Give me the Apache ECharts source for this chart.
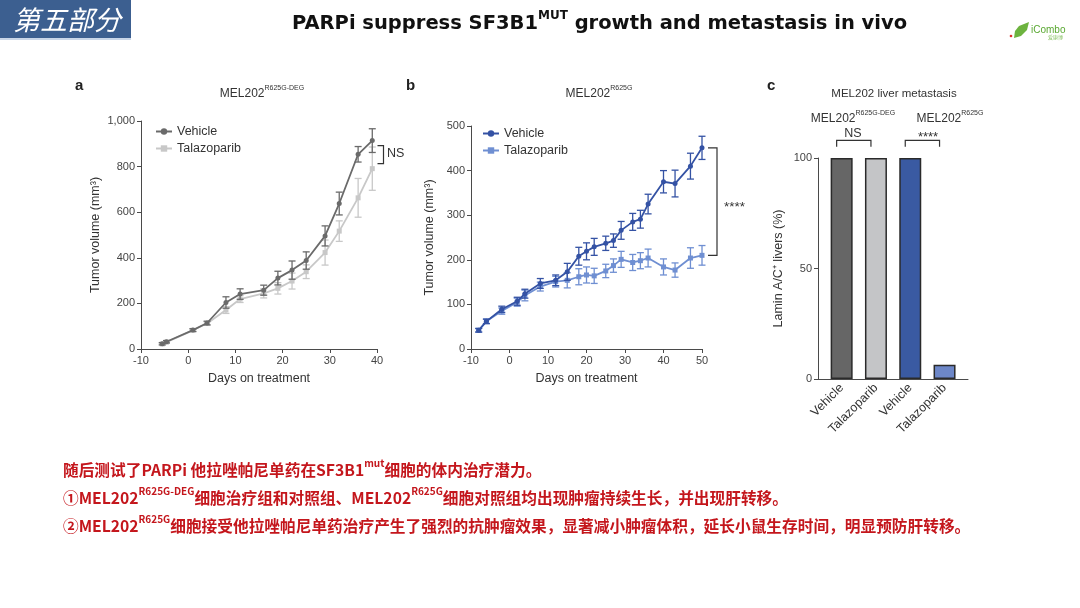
<!DOCTYPE html>
<html><head><meta charset="utf-8">
<script src="https://cdn.jsdelivr.net/npm/echarts@6/dist/echarts.min.js"></script>
<style>html,body{margin:0;padding:0;background:#fff}#c{width:1080px;height:608px}</style>
</head><body><div id="c"></div>
<script>
// ---------- data ----------
const daysA = [-5.5, -4.6, 1, 4, 8, 11, 16, 19, 22, 25, 29, 32, 36, 39];
const vehA = [23, 32, 83, 114, 204, 241, 258, 311, 346, 388, 496, 638, 854, 914];
const vehAErr = [5, 5, 6, 8, 25, 23, 22, 30, 40, 38, 44, 50, 34, 52];
const talA = [22, 30, 82, 112, 171, 219, 244, 266, 298, 339, 423, 517, 663, 791];
const talAErr = [4, 5, 6, 8, 15, 15, 20, 25, 35, 30, 55, 45, 85, 95];

const daysB = [-8, -6, -2, 2, 4, 8, 12, 15, 18, 20, 22, 25, 27, 29, 32, 34, 36, 40, 43, 47, 50];
const vehB = [42, 62, 89, 107, 124, 147, 154, 173, 208, 219, 229, 237, 243, 266, 285, 291, 325, 375, 371, 410, 451];
const vehBErr = [4, 5, 7, 9, 10, 11, 12, 19, 20, 19, 19, 16, 15, 20, 19, 20, 22, 25, 30, 29, 26];
const talB = [42, 62, 85, 105, 120, 140, 151, 154, 162, 166, 164, 175, 187, 201, 194, 198, 204, 184, 177, 204, 210];
const talBErr = [4, 5, 7, 9, 12, 10, 12, 17, 18, 18, 17, 15, 15, 18, 18, 18, 20, 18, 16, 23, 22];

const catsC = ['Vehicle', 'Talazoparib', 'Vehicle', 'Talazoparib'];
const valsC = [100, 100, 100, 6.5];

const seriesNames = ['Vehicle', 'Talazoparib'];

// ---------- styles ----------
const FONT = 'Liberation Sans, Arial, sans-serif';
const AX = '#4a4a4a';
const TXT = '#333';
const cA = ['#6a6a6a', '#c8c8c8'];
const cB = ['#3452a4', '#6f8fd2'];
const cC = ['#666666', '#c4c5c7', '#3a5aa2', '#6d87c8'];

function axisX(grid, min, max, name) {
  return {
    gridIndex: grid, type: 'value', min: min, max: max, interval: 10,
    axisLine: { show: true, onZero: false, lineStyle: { color: AX, width: 1 } },
    axisTick: { show: true, length: 4, lineStyle: { color: AX } },
    axisLabel: { fontSize: 11, color: '#444', margin: 6, fontFamily: FONT },
    splitLine: { show: false },
    name: name, nameLocation: 'middle', nameGap: 23,
    nameTextStyle: { fontSize: 12.5, color: TXT, fontFamily: FONT }
  };
}
function axisY(grid, min, max, interval, name, gap, fmt) {
  return {
    gridIndex: grid, type: 'value', min: min, max: max, interval: interval,
    axisLine: { show: true, onZero: false, lineStyle: { color: AX, width: 1 } },
    axisTick: { show: true, length: 4, lineStyle: { color: AX } },
    axisLabel: { fontSize: 11, color: '#444', margin: 6, fontFamily: FONT, formatter: fmt },
    splitLine: { show: false },
    name: name, nameLocation: 'middle', nameGap: gap, nameRotate: 90,
    nameTextStyle: { fontSize: 12.5, color: TXT, fontFamily: FONT }
  };
}
function errSeries(xi, days, vals, errs, color, z) {
  return {
    type: 'custom', xAxisIndex: xi, yAxisIndex: xi, silent: true, z: z, clip: false,
    data: days.map((d, i) => [d, vals[i] - errs[i], vals[i] + errs[i]]),
    encode: { x: 0, y: [1, 2] },
    renderItem: function (params, api) {
      const lo = api.coord([api.value(0), api.value(1)]);
      const hi = api.coord([api.value(0), api.value(2)]);
      const w = 3.5, st = { stroke: color, lineWidth: 1.3 };
      return { type: 'group', children: [
        { type: 'line', shape: { x1: lo[0], y1: lo[1], x2: hi[0], y2: hi[1] }, style: st },
        { type: 'line', shape: { x1: lo[0] - w, y1: lo[1], x2: lo[0] + w, y2: lo[1] }, style: st },
        { type: 'line', shape: { x1: hi[0] - w, y1: hi[1], x2: hi[0] + w, y2: hi[1] }, style: st }
      ]};
    }
  };
}
function lineSeries(name, xi, days, vals, color, symbol, z) {
  return {
    name: name, type: 'line', xAxisIndex: xi, yAxisIndex: xi, z: z,
    data: days.map((d, i) => [d, vals[i]]),
    symbol: symbol, symbolSize: 5, showSymbol: true,
    lineStyle: { color: color, width: 1.8 },
    itemStyle: { color: color },
    emphasis: { disabled: true }, animation: false
  };
}
function bracketSeries(xi, yi, pts, dx, tick) {
  return {
    type: 'custom', xAxisIndex: xi, yAxisIndex: yi, silent: true, clip: false, z: 5,
    data: pts, encode: { x: 0, y: [1, 2] },
    renderItem: function (params, api) {
      const a = api.coord([api.value(0), api.value(1)]);
      const b = api.coord([api.value(0), api.value(2)]);
      const x = a[0] + dx;
      return { type: 'polyline', shape: { points: [[x - tick, a[1]], [x, a[1]], [x, b[1]], [x - tick, b[1]]] },
        style: { stroke: '#333', lineWidth: 1.2, fill: null } };
    }
  };
}
function hBracket(xi, yi, pts, drop) {
  return {
    type: 'custom', xAxisIndex: xi, yAxisIndex: yi, silent: true, clip: false, z: 5,
    data: pts, encode: { x: [0, 1], y: 2 },
    renderItem: function (params, api) {
      const a = api.coord([api.value(0), api.value(2)]);
      const b = api.coord([api.value(1), api.value(2)]);
      const off = -5;
      return { type: 'polyline', shape: { points: [[a[0] + off, a[1] + drop], [a[0] + off, a[1]], [b[0] + off, b[1]], [b[0] + off, b[1] + drop]] },
        style: { stroke: '#333', lineWidth: 1.2, fill: null } };
    }
  };
}

const supRich = (size, col, weight, ff) => ({
  n: { fontSize: size, fill: col, fontWeight: weight, fontFamily: ff, lineHeight: size + 6 },
  s: { fontSize: Math.round(size * 0.62), fill: col, fontWeight: weight, fontFamily: ff, lineHeight: size, verticalAlign: 'top' }
});
function txt(x, y, text, rich, align) {
  return { type: 'text', x: x, y: y, silent: true,
    style: { text: text, rich: rich, align: align || 'left', verticalAlign: 'middle' } };
}

const RED = '#c4161c';
const CJK = 'Noto Sans CJK SC, sans-serif';
const redRich = {
  n: { fontSize: 15.7, fill: RED, fontWeight: 'bold', fontFamily: CJK, lineHeight: 24 },
  s: { fontSize: 10, fill: RED, fontWeight: 'bold', fontFamily: CJK, lineHeight: 16, verticalAlign: 'top' }
};

const option = {
  animation: false,
  backgroundColor: '#ffffff',
  grid: [
    { left: 141, top: 121, width: 236, height: 228 },
    { left: 471, top: 126, width: 231, height: 223 },
    { left: 818, top: 158, width: 150, height: 221 },
    { left: 824.5, top: 158, width: 137.2, height: 221 }
  ],
  xAxis: [
    axisX(0, -10, 40, 'Days on treatment'),
    axisX(1, -10, 50, 'Days on treatment'),
    { gridIndex: 2, type: 'value', min: 0, max: 1, axisLine: { show: true, onZero: false, lineStyle: { color: AX } },
      axisTick: { show: false }, axisLabel: { show: false }, splitLine: { show: false } },
    { gridIndex: 3, type: 'category', data: catsC.map((c, i) => String(i)),
      axisLine: { show: false }, axisTick: { show: false },
      axisLabel: { rotate: 45, fontSize: 12.5, color: TXT, fontFamily: FONT, margin: 7, formatter: (v, i) => catsC[i] } }
  ],
  yAxis: [
    axisY(0, 0, 1000, 200, 'Tumor volume (mm³)', 39, v => v >= 1000 ? '1,000' : String(v)),
    axisY(1, 0, 500, 100, 'Tumor volume (mm³)', 35),
    axisY(2, 0, 100, 50, 'Lamin A/C⁺ livers (%)', 33),
    { gridIndex: 3, type: 'value', min: 0, max: 100, show: false }
  ],
  legend: [
    { left: 150, top: 120, orient: 'vertical', itemGap: 4, itemWidth: 16, itemHeight: 8, selectedMode: false,
      data: ['a|Vehicle', 'a|Talazoparib'], formatter: n => n.split('|')[1],
      textStyle: { fontSize: 12.5, color: TXT, fontFamily: FONT } },
    { left: 477, top: 122, orient: 'vertical', itemGap: 4, itemWidth: 16, itemHeight: 8, selectedMode: false,
      data: ['b|Vehicle', 'b|Talazoparib'], formatter: n => n.split('|')[1],
      textStyle: { fontSize: 12.5, color: TXT, fontFamily: FONT } }
  ],
  series: [
    errSeries(0, daysA, talA, talAErr, cA[1], 2),
    lineSeries('a|' + seriesNames[1], 0, daysA, talA, cA[1], 'rect', 3),
    errSeries(0, daysA, vehA, vehAErr, cA[0], 4),
    lineSeries('a|' + seriesNames[0], 0, daysA, vehA, cA[0], 'circle', 5),
    bracketSeries(0, 0, [[40, vehA[vehA.length - 1] - 22, talA[talA.length - 1] + 22]], 6.5, 6),

    errSeries(1, daysB, talB, talBErr, cB[1], 2),
    lineSeries('b|' + seriesNames[1], 1, daysB, talB, cB[1], 'rect', 3),
    errSeries(1, daysB, vehB, vehBErr, cB[0], 4),
    lineSeries('b|' + seriesNames[0], 1, daysB, vehB, cB[0], 'circle', 5),
    bracketSeries(1, 1, [[50, vehB[vehB.length - 1], talB[talB.length - 1]]], 15, 9),

    { type: 'bar', xAxisIndex: 3, yAxisIndex: 3, barWidth: 22, silent: true,
      data: valsC.map((v, i) => ({ value: v, itemStyle: { color: cC[i] } })),
      itemStyle: { borderColor: '#2a2a2a', borderWidth: 1.5 } },
    hBracket(3, 3, [[0, 1, 108], [2, 3, 108]], 6.5)
  ],
  graphic: [
    // header
    { type: 'rect', shape: { x: 0, y: 0, width: 131, height: 38 }, style: { fill: '#3c5f90' }, silent: true },
    { type: 'rect', shape: { x: 0, y: 38, width: 131, height: 2 }, style: { fill: '#c9d6e8' }, silent: true },
    { type: 'text', x: 67, y: 20, silent: true, style: { text: '第五部分', align: 'center', verticalAlign: 'middle',
      fill: '#ffffff', font: 'italic 27px "Noto Sans CJK SC", sans-serif' } },
    txt(292, 24, '{t|PARPi suppress SF3B1}{s|MUT}{t| growth and metastasis in vivo}', {
      t: { fontSize: 19.5, fontWeight: 'bold', fill: '#111', fontFamily: 'DejaVu Sans, sans-serif', lineHeight: 28 },
      s: { fontSize: 12, fontWeight: 'bold', fill: '#111', fontFamily: 'DejaVu Sans, sans-serif', lineHeight: 20, verticalAlign: 'top' }
    }),
    // logo
    { type: 'polygon', silent: true, shape: { points: [[1014, 38], [1015, 31], [1019, 26], [1029, 22], [1027, 30], [1021, 36]] }, style: { fill: '#6db33f' } },
    { type: 'circle', silent: true, shape: { cx: 1011, cy: 36, r: 1.3 }, style: { fill: '#e03030' } },
    { type: 'text', x: 1031, y: 30, silent: true, style: { text: 'iCombo', fill: '#5aa832', font: '10px "Liberation Sans", sans-serif', verticalAlign: 'middle' } },
    { type: 'text', x: 1048, y: 37, silent: true, style: { text: '爱康博', fill: '#8cc46a', font: '5px "Noto Sans CJK SC", sans-serif', verticalAlign: 'middle' } },

    // panel letters
    { type: 'text', x: 75, y: 86, silent: true, style: { text: 'a', fill: '#222', font: 'bold 15px "Liberation Sans", sans-serif', verticalAlign: 'middle' } },
    { type: 'text', x: 406, y: 86, silent: true, style: { text: 'b', fill: '#222', font: 'bold 15px "Liberation Sans", sans-serif', verticalAlign: 'middle' } },
    { type: 'text', x: 767, y: 86, silent: true, style: { text: 'c', fill: '#222', font: 'bold 15px "Liberation Sans", sans-serif', verticalAlign: 'middle' } },

    // panel titles
    txt(262, 94, '{n|MEL202}{s|R625G-DEG}', supRich(12, TXT, 'normal', FONT), 'center'),
    txt(599, 94, '{n|MEL202}{s|R625G}', supRich(12, TXT, 'normal', FONT), 'center'),
    txt(894, 94, '{n|MEL202 liver metastasis}', supRich(11.5, TXT, 'normal', FONT), 'center'),
    txt(853, 119, '{n|MEL202}{s|R625G-DEG}', supRich(12, TXT, 'normal', FONT), 'center'),
    txt(950, 119, '{n|MEL202}{s|R625G}', supRich(12, TXT, 'normal', FONT), 'center'),
    txt(853, 134, '{n|NS}', supRich(12.5, TXT, 'normal', FONT), 'center'),
    txt(928, 137, '{n|****}', supRich(13, TXT, 'normal', FONT), 'center'),
    txt(387, 154, '{n|NS}', supRich(12.5, TXT, 'normal', FONT), 'left'),
    txt(724, 207, '{n|****}', supRich(13.5, TXT, 'normal', FONT), 'left'),

    // bottom text
    txt(63, 470, '{n|随后测试了PARPi 他拉唑帕尼单药在SF3B1}{s|mut}{n|细胞的体内治疗潜力。}', redRich),
    txt(63, 498, '{n|①MEL202}{s|R625G-DEG}{n|细胞治疗组和对照组、MEL202}{s|R625G}{n|细胞对照组均出现肿瘤持续生长，并出现肝转移。}', redRich),
    txt(63, 526, '{n|②MEL202}{s|R625G}{n|细胞接受他拉唑帕尼单药治疗产生了强烈的抗肿瘤效果，显著减小肿瘤体积，延长小鼠生存时间，明显预防肝转移。}', redRich)
  ]
};

const chart = echarts.init(document.getElementById('c'), null, { renderer: 'canvas' });
chart.setOption(option);
</script></body></html>
